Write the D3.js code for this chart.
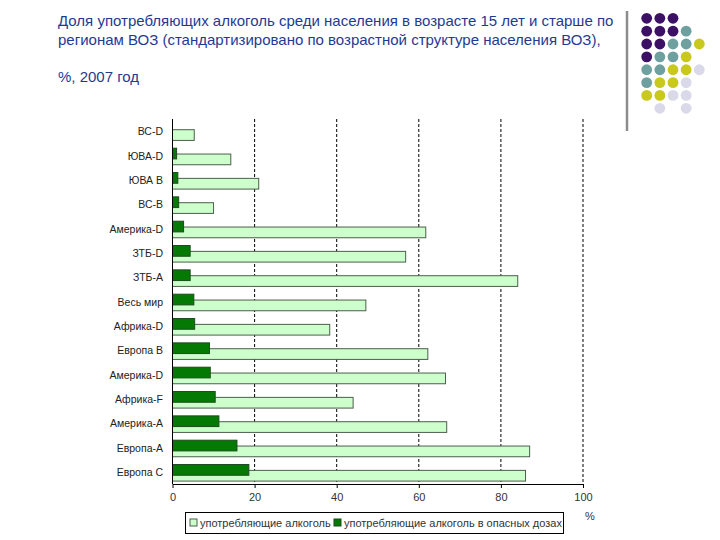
<!DOCTYPE html>
<html><head><meta charset="utf-8">
<script src="https://cdn.jsdelivr.net/npm/d3@7"></script>
<style>body{margin:0;background:#fff}svg{display:block}</style>
</head><body>
<svg id="c" width="720" height="540"></svg>
<script>
const categories = ["ВС-D","ЮВА-D","ЮВА В","ВС-В","Америка-D","ЗТБ-D","ЗТБ-A","Весь мир","Африка-D","Европа В","Америка-D","Африка-F","Америка-A","Европа-A","Европа С"];
const drinkers = [5.3,14.2,21.0,10.0,61.7,56.8,84.1,47.1,38.3,62.2,66.5,44.0,66.8,87.0,86.0];
const hazardous = [0,1.0,1.3,1.5,2.7,4.3,4.3,5.2,5.4,9.0,9.2,10.4,11.3,15.7,18.6];
const xTicks = [0,20,40,60,80,100];
const titleLines = ["Доля употребляющих алкоголь среди населения в возрасте 15 лет и старше по","регионам ВОЗ (стандартизировано по возрастной структуре населения ВОЗ),","","%, 2007 год"];
const legendLabels = ["употребляющие алкоголь","употребляющие алкоголь в опасных дозах"];
const dotRows = [
  ["P","P","P",null,null],
  ["P","P","P","T",null],
  ["P","P","T","T","Y"],
  ["P","T","T","Y",null],
  ["T","T","Y","Y","L"],
  ["T","Y","Y","L",null],
  ["Y","Y","L","L",null],
  [null,"L",null,"L",null]
];
const dotColors = {P:"#3b1065",T:"#6fa0a0",Y:"#c8c81e",L:"#d9d9ea"};

(function(){
const svg = d3.select("#c");
const font = "'Liberation Sans', Arial, sans-serif";

// title
svg.append("g").selectAll("text").data(titleLines).join("text")
  .attr("x",58).attr("y",(d,i)=>26+i*18.6)
  .attr("fill","#1f3a93").attr("font-family",font).attr("font-size",15)
  .text(d=>d);

// decoration
svg.append("line").attr("x1",627).attr("x2",627).attr("y1",11).attr("y2",131)
  .attr("stroke","#8c8c8c").attr("stroke-width",2.5);
const dx = d3.scaleLinear().domain([0,4]).range([646.7,699.3]);
const dy = d3.scaleLinear().domain([0,7]).range([18.3,108.3]);
const dots = [];
dotRows.forEach((r,ri)=>r.forEach((c,ci)=>{ if(c) dots.push({ri,ci,c}); }));
svg.append("g").selectAll("circle").data(dots).join("circle")
  .attr("cx",d=>dx(d.ci)).attr("cy",d=>dy(d.ri)).attr("r",5.4)
  .attr("fill",d=>dotColors[d.c]);

// chart
const pLeft = 172.5, pRight = 583, pTop = 119, pBottom = 484;
const x = d3.scaleLinear().domain([0,100]).range([pLeft,pRight]);
const y = d3.scaleBand().domain(d3.range(categories.length)).range([pTop,pBottom]);
const bw = y.bandwidth();

// gridlines
svg.append("g").selectAll("line").data(xTicks.slice(1)).join("line")
  .attr("x1",d=>x(d)).attr("x2",d=>x(d)).attr("y1",pTop).attr("y2",pBottom)
  .attr("stroke","#000").attr("stroke-dasharray","3,2").attr("stroke-width",1);

// light bars
svg.append("g").selectAll("rect").data(drinkers).join("rect")
  .attr("x",x(0)).attr("y",(d,i)=>y(i)+bw*0.44).attr("width",d=>x(d)-x(0)).attr("height",bw*0.44)
  .attr("fill","#ccffcc").attr("stroke","#4d5e4d").attr("stroke-width",1);
// dark bars
svg.append("g").selectAll("rect").data(hazardous).join("rect")
  .attr("x",x(0)).attr("y",(d,i)=>y(i)+bw*0.2).attr("width",d=>x(d)-x(0)).attr("height",bw*0.44)
  .attr("fill","#047a04").attr("stroke","#1d4a1d").attr("stroke-width",1)
  .attr("display",d=>d>0?null:"none");

// category labels
svg.append("g").selectAll("text").data(categories).join("text")
  .attr("x",163).attr("y",(d,i)=>y(i)+bw/2+4)
  .attr("text-anchor","end").attr("font-family",font).attr("font-size",10.5).attr("fill","#222")
  .text(d=>d);

// axes
svg.append("line").attr("x1",pLeft).attr("x2",pLeft).attr("y1",pTop).attr("y2",pBottom).attr("stroke","#000");
const xa = svg.append("g").attr("transform",`translate(0,${pBottom})`)
  .call(d3.axisBottom(x).tickValues(xTicks).tickSize(4).tickSizeOuter(0));
xa.select(".domain").attr("stroke","#000");
xa.selectAll(".tick line").attr("stroke","#000");
xa.selectAll("text").attr("font-family",font).attr("font-size",11).attr("fill","#333").attr("dy","0.9em");

// percent
svg.append("text").attr("x",590).attr("y",520).attr("text-anchor","middle")
  .attr("font-family",font).attr("font-size",11).attr("fill","#333").text("%");

// legend
svg.append("rect").attr("x",185.5).attr("y",512.5).attr("width",378).attr("height",21)
  .attr("fill","#fff").attr("stroke","#000");
const lg = [{fill:"#ccffcc",stroke:"#4d5e4d",x:190,t:legendLabels[0]},{fill:"#047a04",stroke:"#1d4a1d",x:334,t:legendLabels[1]}];
const lgG = svg.append("g").selectAll("g").data(lg).join("g");
lgG.append("rect").attr("x",d=>d.x).attr("y",519).attr("width",7).attr("height",7)
  .attr("fill",d=>d.fill).attr("stroke",d=>d.stroke);
lgG.append("text").attr("x",d=>d.x+10).attr("y",527)
  .attr("font-family",font).attr("font-size",11).attr("fill","#333").text(d=>d.t);
})();
</script>
</body></html>
